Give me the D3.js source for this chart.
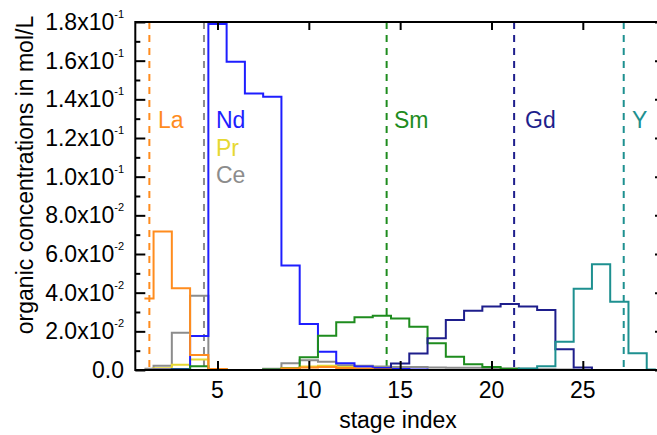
<!DOCTYPE html>
<html>
<head>
<meta charset="utf-8">
<script src="https://cdn.jsdelivr.net/npm/d3@7"></script>
<style>
  body { margin: 0; background: #fff; }
  svg { display: block; font-family: "Liberation Sans", Arial, sans-serif; }
</style>
</head>
<body>
<svg id="chart" width="657" height="435"></svg>
<script>
// stage index 1..29
var stages = d3.range(1, 30);

// organic concentrations (mol/L) per stage
var laValues = [0.037, 0.0716, 0.0423, 0.0078, 0.0005, 0, 0, 0, 0.0008, 0.0013, 0.0015, 0.001, 0.0006, 0.0003, 0,
  0, 0, 0, 0, 0, 0, 0, 0, 0, 0, 0, 0, 0, 0];
var ceValues = [0.0006, 0.0022, 0.0193, 0.0384, 0.0003, 0, 0, 0.0006, 0.0035, 0.005, 0.0043, 0.0025, 0.0022, 0.0018, 0.0015,
  0.0015, 0.0013, 0.0012, 0.0012, 0.001, 0.0008, 0.0006, 0.0004, 0.0002, 0, 0, 0, 0, 0];
var prValues = [0, 0.0009, 0.0027, 0.0054, 0.0003, 0, 0, 0, 0.001, 0.0018, 0.0022, 0.0015, 0.0008, 0.0004, 0.0002,
  0, 0, 0, 0, 0, 0, 0, 0, 0, 0, 0, 0, 0, 0];
var ndValues = [0, 0.0002, 0.0005, 0.0176, 0.1790, 0.1595, 0.143, 0.1414, 0.054, 0.0238, 0.0095, 0.0035, 0.0018, 0.001, 0.0005,
  0.0002, 0, 0, 0, 0, 0, 0, 0, 0, 0, 0, 0, 0, 0];
var smValues = [0, 0, 0.0003, 0.002, 0.0003, 0, 0, 0.0002, 0.0008, 0.0066, 0.0177, 0.0247, 0.0273, 0.0281, 0.0267,
  0.0224, 0.0138, 0.0069, 0.003, 0.0015, 0.0006, 0.0002, 0, 0, 0, 0, 0, 0, 0];
var gdValues = [0, 0, 0, 0, 0, 0, 0, 0, 0, 0, 0, 0, 0, 0.0004, 0.0033,
  0.0085, 0.0164, 0.0259, 0.0307, 0.0328, 0.0341, 0.0328, 0.031, 0.0107, 0.0013, 0, 0, 0, 0];
var yValues = [0, 0, 0, 0, 0, 0, 0, 0, 0, 0, 0, 0, 0, 0, 0,
  0, 0, 0, 0, 0, 0, 0.0008, 0.002, 0.0146, 0.042, 0.0547, 0.0353, 0.0086, 0.0003];

// series names, colours (drawing order)
var seriesNames = ["Ce", "Pr", "Nd", "Sm", "Gd", "Y", "La"];
var seriesValues = [ceValues, prValues, ndValues, smValues, gdValues, yValues, laValues];
var seriesColors = ["#8c8c8c", "#e6d832", "#1e1eff", "#1e8c1e", "#1e1e8c", "#1e9090", "#ff8c1e"];

// dashed stage markers
var markerStages = [1.27, 4.26, 14.26, 21.24, 27.24];
var markerColors = ["#ff8c1e", "#8c8c8c", "#1e8c1e", "#1e1e8c", "#1e9090"];

var labelNames = ["La", "Nd", "Pr", "Ce", "Sm", "Gd", "Y"];
var labelColors = ["#ff8c1e", "#1e1eff", "#e6d832", "#8c8c8c", "#1e8c1e", "#1e1e8c", "#1e9090"];
var labelX = [158, 216, 216, 216, 394, 525, 632];
var labelRow = [0, 0, 1, 2, 0, 0, 0];

// ticks
var xTicks = [5, 10, 15, 20, 25];
var yMajor = [0, 0.02, 0.04, 0.06, 0.08, 0.10, 0.12, 0.14, 0.16, 0.18];
var yMinor = [0.01, 0.03, 0.05, 0.07, 0.09, 0.11, 0.13, 0.15, 0.17];
var yTickMantissa = ["0.0", "2.0x10", "4.0x10", "6.0x10", "8.0x10", "1.0x10", "1.2x10", "1.4x10", "1.6x10", "1.8x10"];
var yTickExponent = ["", "-2", "-2", "-2", "-2", "-1", "-1", "-1", "-1", "-1"];

var svg = d3.select("#chart");
var plotL = 135.3, plotR = 665, plotT = 22, plotB = 370;

var x = d3.scaleLinear().domain([0.5, 29.5]).range([plotL, plotR]);
var y = d3.scaleLinear().domain([0, 0.18]).range([plotB, plotT]);

// dashed stage markers
svg.append("g")
  .selectAll("line")
  .data(markerStages)
  .enter()
  .append("line")
  .attr("x1", function(d) { return x(d); })
  .attr("x2", function(d) { return x(d); })
  .attr("y1", plotT)
  .attr("y2", plotB)
  .attr("stroke", function(d, i) { return markerColors[i]; })
  .attr("stroke-width", 2)
  .attr("stroke-dasharray", "7,6");

// step lines
var line = d3.line()
  .x(function(d) { return x(d[0]); })
  .y(function(d) { return y(d[1]); })
  .curve(d3.curveStep);

svg.append("g")
  .selectAll("path")
  .data(seriesValues)
  .enter()
  .append("path")
  .attr("d", function(vals) {
    return line(stages.map(function(s, i) { return [s, vals[i]]; }));
  })
  .attr("fill", "none")
  .attr("stroke", function(d, i) { return seriesColors[i]; })
  .attr("stroke-width", 2);

// axes
function styleAxis(g) {
  g.selectAll(".domain").remove();
  g.selectAll(".tick line").attr("stroke", "#000").attr("stroke-width", 2);
  g.selectAll(".tick text").remove();
}

svg.append("g").attr("transform", "translate(" + plotL + ",0)")
  .call(d3.axisLeft(y).tickValues(yMajor).tickSize(-10)).call(styleAxis);
svg.append("g").attr("transform", "translate(" + plotL + ",0)")
  .call(d3.axisLeft(y).tickValues(yMinor).tickSize(-5)).call(styleAxis);
svg.append("g").attr("transform", "translate(" + plotR + ",0)")
  .call(d3.axisRight(y).tickValues(yMajor).tickSize(-10)).call(styleAxis);
svg.append("g").attr("transform", "translate(" + plotR + ",0)")
  .call(d3.axisRight(y).tickValues(yMinor).tickSize(-5)).call(styleAxis);
svg.append("g").attr("transform", "translate(0," + plotB + ")")
  .call(d3.axisBottom(x).tickValues(xTicks).tickSize(-9)).call(styleAxis);
svg.append("g").attr("transform", "translate(0," + plotT + ")")
  .call(d3.axisTop(x).tickValues(xTicks).tickSize(-8)).call(styleAxis);

svg.append("rect")
  .attr("x", plotL).attr("y", plotT)
  .attr("width", plotR - plotL).attr("height", plotB - plotT)
  .attr("fill", "none").attr("stroke", "#000").attr("stroke-width", 2);

// x tick labels
svg.append("g")
  .selectAll("text")
  .data(xTicks)
  .enter()
  .append("text")
  .attr("x", function(d) { return x(d); })
  .attr("y", 398)
  .attr("text-anchor", "middle")
  .attr("font-size", 23)
  .text(function(d) { return d; });

// y tick labels with exponent
var yLab = svg.append("g")
  .selectAll("text")
  .data(yMajor)
  .enter()
  .append("text")
  .attr("x", 124)
  .attr("y", function(d) { return y(d) + 8; })
  .attr("text-anchor", "end")
  .attr("font-size", 23);
yLab.append("tspan").text(function(d, i) { return yTickMantissa[i]; });
yLab.append("tspan")
  .attr("font-size", 11)
  .attr("dy", -12)
  .text(function(d, i) { return yTickExponent[i]; });

// axis titles
svg.append("text")
  .attr("x", 398).attr("y", 428)
  .attr("text-anchor", "middle")
  .attr("font-size", 23)
  .text("stage index");

svg.append("text")
  .attr("transform", "translate(33,175) rotate(-90)")
  .attr("text-anchor", "middle")
  .attr("font-size", 23)
  .text("organic concentrations in mol/L");

// element labels
svg.append("g")
  .selectAll("text")
  .data(labelNames)
  .enter()
  .append("text")
  .attr("x", function(d, i) { return labelX[i]; })
  .attr("y", function(d, i) { return 128 + labelRow[i] * 27.5; })
  .attr("font-size", 23)
  .attr("fill", function(d, i) { return labelColors[i]; })
  .text(function(d) { return d; });
</script>
</body>
</html>
